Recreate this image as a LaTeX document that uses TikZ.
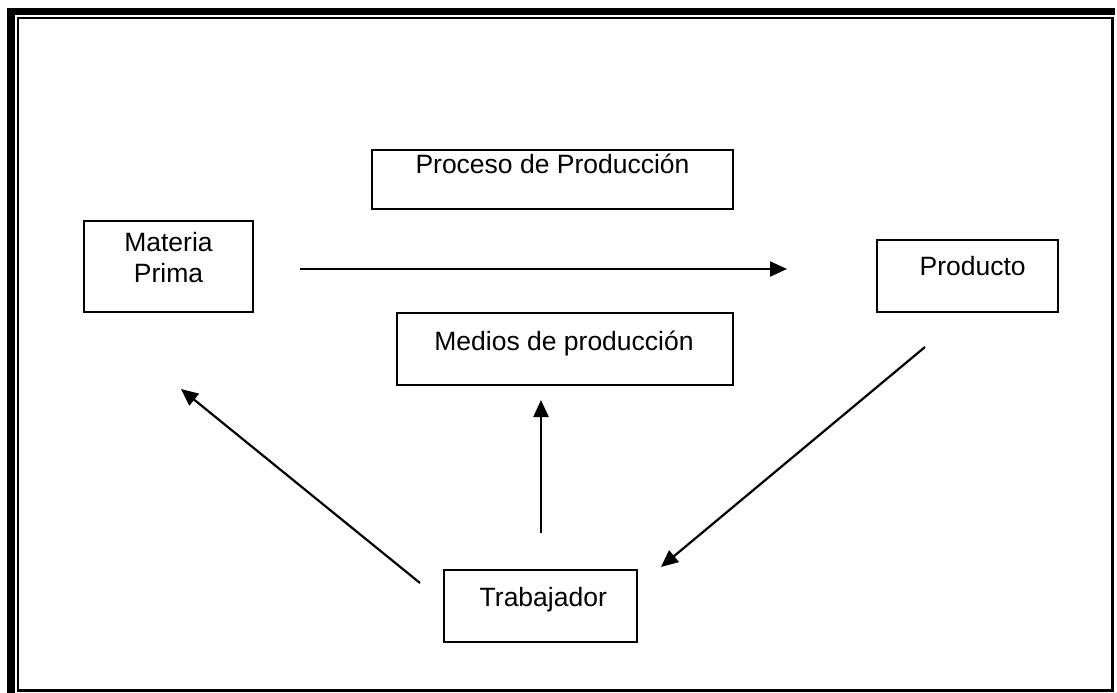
\documentclass[tikz,border=0pt]{standalone}
\usepackage{fontspec}
\setmainfont{Liberation Sans}
\usetikzlibrary{arrows.meta}
\begin{document}
\begin{tikzpicture}[x=1pt,y=-1pt,
    box/.style={draw,line width=2pt,inner sep=0pt},
    lbl/.style={anchor=base,inner sep=0pt,font=\fontsize{26.5}{30}\selectfont},
    arr/.style={line width=2.2pt,-{Triangle[length=17pt,width=15pt]}}]
  \useasboundingbox (0,0) rectangle (1117,693);
  % marco
  \draw[line width=8pt] (11,693)--(11,11.5);
  \draw[line width=7pt] (7,11.5)--(1115,11.5);
  \draw[line width=2pt] (18,690.5)--(18,18)--(1112.5,18);
  \draw[line width=3.2pt] (1112.5,17)--(1112.5,690.5)--(16.5,690.5);
  % cajas
  \node[box,minimum width=169,minimum height=91] (mp) at (168.5,266.5) {};
  \node[box,minimum width=361,minimum height=59] (proc) at (552.5,179.5) {};
  \node[box,minimum width=336,minimum height=72] (medios) at (565,349) {};
  \node[box,minimum width=181,minimum height=72] (prod) at (967.5,276) {};
  \node[box,minimum width=193,minimum height=72] (trab) at (540.5,606) {};
  % textos
  \node[lbl] (mp1) at (168.5,251) {Materia};
  \node[lbl] (mp2) at (168.5,282) {Prima};
  \node[lbl] (proct) at (552.5,173) {Proceso de Producción};
  \node[lbl] (mediost) at (564,350) {Medios de producción};
  \node[lbl] (prodt) at (972.7,275) {Producto};
  \node[lbl] (trabt) at (543.3,606) {Trabajador};
  % flechas
  \coordinate (h-a) at (300,269);
  \coordinate (h-b) at (787,269);
  \coordinate (v-a) at (541,533);
  \coordinate (v-b) at (541,400);
  \coordinate (l-a) at (420,583);
  \coordinate (l-b) at (181,389);
  \coordinate (r-a) at (925,347);
  \coordinate (r-b) at (661,567);
  \draw[arr] (h-a)--(h-b);
  \draw[arr] (v-a)--(v-b);
  \draw[arr] (l-a)--(l-b);
  \draw[arr] (r-a)--(r-b);
\end{tikzpicture}
\end{document}
